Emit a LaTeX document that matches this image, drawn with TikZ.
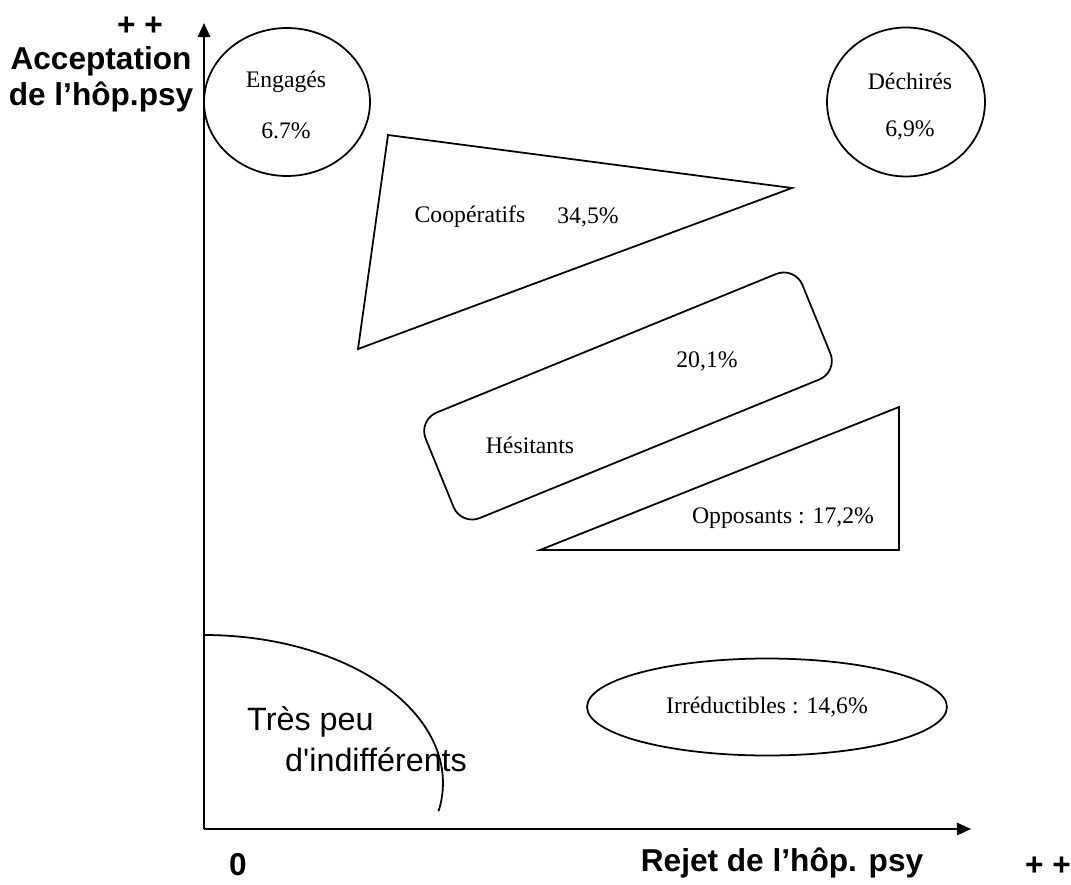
\documentclass[tikz,border=0pt]{standalone}
\usepackage{fontspec}
\setmainfont{Liberation Serif}
\newfontfamily\arialfont[Ligatures=TeXOff]{Liberation Sans}
\usetikzlibrary{arrows.meta, shapes.geometric}

\begin{document}
\begin{tikzpicture}[
    x=0.02cm, y=-0.02cm,
    every node/.style={font=\fontsize{13.5}{16}\selectfont},
    shape line/.style={line width=1pt},
    oval/.style={draw, ellipse, line width=1pt, inner sep=0},
    axis/.style={line width=1.2pt, -{Triangle[length=8pt, width=7pt]}},
    axis label/.style={font=\arialfont\bfseries\fontsize{18}{21}\selectfont},
    note/.style={font=\arialfont\fontsize{18.4}{21}\selectfont, anchor=west}
]
\useasboundingbox (0,0) rectangle (1071,885);

% Axes
\coordinate (origin) at (204,829);
\coordinate (ytip) at (204,23);
\coordinate (xtip) at (971,829);
\draw[axis] (origin) -- (ytip);
\draw[axis] (origin) -- (xtip);

% Axis labels
\node[axis label] (yplus) at (140,26) {+ +};
\node[axis label] (yname1) at (101,61) {Acceptation};
\node[axis label] (yname2) at (101,97) {de l’hôp.psy};
\node[axis label] (zero) at (238,865) {0};
\node[axis label] (xname) at (782,863) {Rejet de l’hôp. psy};
\node[axis label] (xplus) at (1048,866) {+ +};

% Engages
\node[oval, minimum width=3.32cm, minimum height=2.96cm] (engages) at (287,102) {};
\node (engages-name) at (286,82) {Engagés};
\node (engages-pct) at (286,131) {6.7\%};

% Dechires
\node[oval, minimum width=3.16cm, minimum height=2.98cm] (dechires) at (906,102) {};
\node (dechires-name) at (910,81) {Déchirés};
\node (dechires-pct) at (910,130) {6,9\%};

% Cooperatifs triangle
\coordinate (coop-a) at (388,135);
\coordinate (coop-b) at (792,188);
\coordinate (coop-c) at (358,349);
\draw[shape line] (coop-a) -- (coop-b) -- (coop-c) -- cycle;
\node (coop-name) at (470,217) {Coopératifs};
\node (coop-pct) at (588,217) {34,5\%};

% Hesitants (tilted rounded box)
\node[draw, shape line, rounded corners=0.4cm, rotate=22.2,
      minimum width=8.14cm, minimum height=2.28cm] (hesitants) at (628,396) {};
\node (hesitants-name) at (530,445) {Hésitants};
\node (hesitants-pct) at (707,361) {20,1\%};

% Opposants triangle
\coordinate (opp-a) at (540,550);
\coordinate (opp-b) at (899,407);
\coordinate (opp-c) at (899,550);
\draw[shape line] (opp-a) -- (opp-b) -- (opp-c) -- cycle;
\node (opp-name) at (783,518) {Opposants : 17,2\%};

% Irreductibles
\node[oval, minimum width=7.2cm, minimum height=1.94cm] (irreductibles) at (767,707)
    {Irréductibles : 14,6\%};

% Indifferents
\coordinate (indiff-start) at (204,635);
\draw[shape line] (indiff-start) arc[start angle=90, end angle=-11, x radius=4.78cm, y radius=2.96cm];
\node[note] (indiff1) at (241,722) {Très peu};
\node[note] (indiff2) at (279,760) {d'indifférents};

\end{tikzpicture}
\end{document}
